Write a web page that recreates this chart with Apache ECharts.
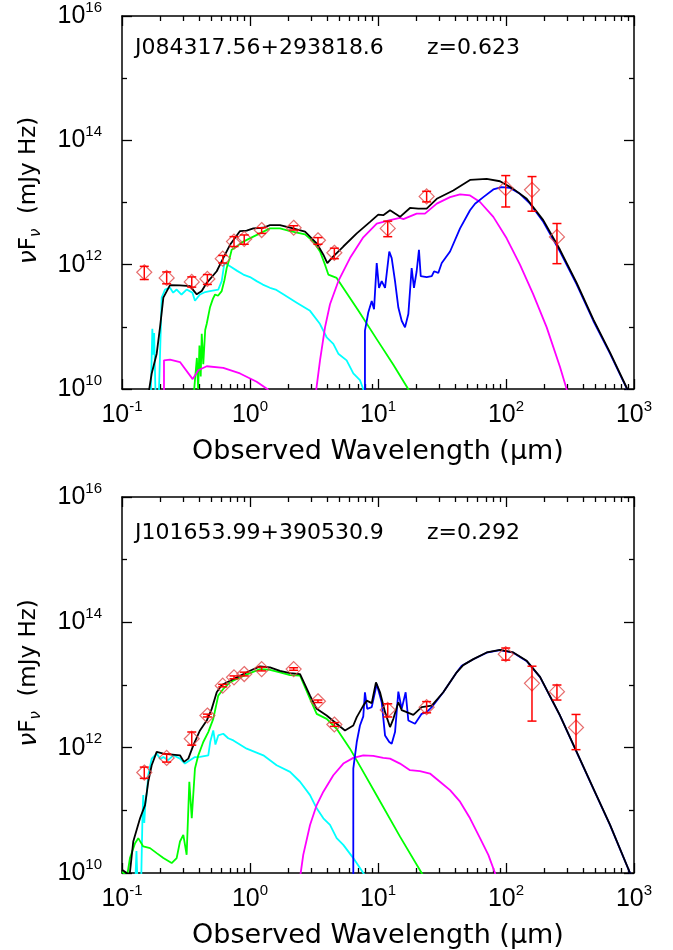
<!DOCTYPE html>
<html>
<head>
<meta charset="utf-8">
<script src="https://cdn.jsdelivr.net/npm/echarts@6/dist/echarts.min.js"></script>
<style>
  html, body { margin: 0; padding: 0; background: #fff; }
  #chart { width: 673px; height: 950px; }
</style>
</head>
<body>
<div id="chart"></div>
<script>
// all values are log10: wavelength in micron, nuFnu in mJy Hz
const sources = ['J084317.56+293818.6', 'J101653.99+390530.9'];
const redshifts = ['z=0.623', 'z=0.292'];

// photometry, panel 1
const bandsA = [-0.826, -0.651, -0.455, -0.333, -0.213, -0.125, -0.045, 0.091, 0.341, 0.531, 0.659, 1.076, 1.380, 1.998, 2.203, 2.398];
const fluxA  = [11.878, 11.787, 11.723, 11.771, 12.096, 12.371, 12.414, 12.557, 12.594, 12.392, 12.191, 12.583, 13.098, 13.231, 13.204, 12.446];
const errLoA = [11.761, 11.692, 11.639, 11.682, 12.026, 12.292, 12.328, 12.503, 12.557, 12.328, 12.096, 12.45, 13.01, 12.928, 12.86, 12.016];
const errHiA = [11.973, 11.883, 11.803, 11.841, 12.148, 12.451, 12.478, 12.594, 12.626, 12.435, 12.265, 12.70, 13.18, 13.433, 13.417, 12.662];

// photometry, panel 2
const bandsB = [-0.826, -0.651, -0.455, -0.333, -0.213, -0.125, -0.045, 0.091, 0.341, 0.531, 0.659, 1.076, 1.380, 1.998, 2.203, 2.398, 2.547];
const fluxB  = [11.603, 11.836, 12.143, 12.513, 12.989, 13.122, 13.175, 13.254, 13.254, 12.741, 12.37, 12.603, 12.646, 13.492, 13.027, 12.894, 12.322];
const errLoB = [11.51, 11.77, 12.04, 12.49, 12.97, 13.10, 13.145, 13.225, 13.235, 12.72, 12.34, 12.49, 12.556, 13.397, 12.424, 12.76, 11.968];
const errHiB = [11.69, 11.90, 12.25, 12.535, 13.01, 13.145, 13.205, 13.285, 13.275, 12.76, 12.40, 12.70, 12.735, 13.59, 13.30, 13.0, 12.53];

// model components, panel 1
const agnA = [[-0.775,9.9],[-0.763,10.97],[-0.756,10.55],[-0.749,10.9],[-0.738,9.9],[-0.712,9.9],[-0.69,11.47],[-0.664,11.6],[-0.625,11.63],[-0.6,11.55],[-0.573,11.6],[-0.535,11.52],[-0.495,11.6],[-0.45,11.55],[-0.43,11.42],[-0.391,11.52],[-0.35,11.56],[-0.313,11.575],[-0.248,11.6],[-0.221,11.735],[-0.2,12.03],[-0.156,11.973],[-0.1,11.9],[-0.052,11.841],[0,11.8],[0.052,11.735],[0.1,11.68],[0.156,11.628],[0.2,11.6],[0.26,11.523],[0.365,11.389],[0.469,11.257],[0.547,11.045],[0.599,10.832],[0.651,10.727],[0.69,10.568],[0.755,10.461],[0.807,10.25],[0.859,10.143],[0.885,9.995],[0.9,9.9]];
const starA = [[-0.44,9.9],[-0.415,10.5],[-0.405,10.0],[-0.395,10.7],[-0.385,10.2],[-0.377,10.89],[-0.365,10.4],[-0.35,10.95],[-0.338,11.05],[-0.313,11.31],[-0.29,11.45],[-0.273,11.52],[-0.25,11.5],[-0.221,11.575],[-0.2,11.75],[-0.182,11.946],[-0.16,12.1],[-0.143,12.239],[-0.104,12.292],[-0.08,12.33],[-0.052,12.371],[0.026,12.451],[0.078,12.503],[0.156,12.583],[0.234,12.583],[0.313,12.541],[0.43,12.487],[0.495,12.371],[0.547,12.212],[0.586,12.0],[0.612,11.841],[0.677,11.787],[0.85,11.25],[1.0,10.77],[1.12,10.39],[1.237,9.995],[1.25,9.95]];
const torusUvA = [[-0.672,9.9],[-0.672,10.461],[-0.625,10.472],[-0.547,10.434],[-0.448,10.159],[-0.404,10.302],[-0.338,10.366],[-0.209,10.339],[-0.078,10.25],[0.052,10.116],[0.138,9.995],[0.15,9.95]];
const torusA = [[0.512,9.9],[0.547,10.461],[0.586,10.991],[0.625,11.364],[0.69,11.734],[0.781,12.106],[0.885,12.44],[0.99,12.66],[1.094,12.717],[1.172,12.753],[1.198,12.732],[1.302,12.822],[1.367,12.822],[1.459,12.981],[1.563,13.087],[1.641,13.13],[1.719,13.114],[1.797,13.008],[1.901,12.769],[2.005,12.424],[2.109,12.0],[2.213,11.523],[2.318,10.991],[2.422,10.355],[2.474,9.995],[2.48,9.95]];
const coldA = [[0.898,9.9],[0.898,10.939],[0.924,11.23],[0.951,11.416],[0.969,11.284],[0.99,12.026],[1.008,11.628],[1.029,11.735],[1.055,11.628],[1.088,12.212],[1.107,12.105],[1.133,11.735],[1.159,11.31],[1.185,11.098],[1.211,10.991],[1.237,11.205],[1.25,11.575],[1.263,11.946],[1.281,11.628],[1.302,11.894],[1.32,12.239],[1.334,11.814],[1.38,11.798],[1.42,11.814],[1.438,11.894],[1.471,11.867],[1.498,12.026],[1.563,12.212],[1.641,12.583],[1.719,12.876],[1.758,12.981],[1.823,13.087],[1.901,13.21],[1.966,13.247],[2.031,13.235],[2.109,13.14],[2.188,12.981],[2.291,12.689],[2.422,12.212],[2.552,11.682],[2.682,11.098],[2.813,10.568],[2.943,10.011],[2.96,9.95]];
const totalA = [[-0.79,9.9],[-0.787,10.0],[-0.768,10.25],[-0.729,10.568],[-0.703,10.991],[-0.677,11.469],[-0.625,11.671],[-0.547,11.666],[-0.469,11.655],[-0.416,11.523],[-0.377,11.575],[-0.338,11.708],[-0.26,11.894],[-0.209,12.105],[-0.156,12.319],[-0.078,12.541],[-0.026,12.546],[0.026,12.583],[0.104,12.594],[0.156,12.637],[0.234,12.637],[0.313,12.594],[0.43,12.53],[0.521,12.344],[0.573,12.16],[0.604,12.026],[0.651,12.132],[0.729,12.292],[0.834,12.503],[0.938,12.689],[1.002,12.806],[1.041,12.796],[1.094,12.876],[1.172,12.769],[1.25,12.912],[1.315,12.901],[1.38,12.901],[1.459,13.06],[1.588,13.194],[1.719,13.363],[1.849,13.379],[1.953,13.342],[2.057,13.219],[2.162,13.06],[2.291,12.717],[2.422,12.239],[2.552,11.708],[2.682,11.12],[2.813,10.585],[2.943,10.02],[2.96,9.95]];

// model components, panel 2
const agnB = [[-0.895,9.9],[-0.887,10.35],[-0.88,9.9],[-0.85,9.9],[-0.84,10.9],[-0.834,11.243],[-0.826,10.8],[-0.818,11.1],[-0.805,11.3],[-0.795,11.56],[-0.768,11.825],[-0.729,11.905],[-0.7,11.82],[-0.677,11.852],[-0.64,11.8],[-0.599,11.878],[-0.547,11.825],[-0.508,11.746],[-0.469,11.798],[-0.43,11.85],[-0.391,11.852],[-0.326,11.878],[-0.31,12.1],[-0.287,12.275],[-0.27,12.05],[-0.248,12.195],[-0.209,12.222],[-0.17,12.15],[-0.13,12.116],[-0.026,11.984],[0.104,11.878],[0.208,11.719],[0.313,11.614],[0.391,11.456],[0.469,11.243],[0.521,11.032],[0.573,10.873],[0.625,10.767],[0.677,10.556],[0.729,10.449],[0.807,10.238],[0.885,10.0],[0.9,9.95]];
const starB = [[-1.0,10.02],[-0.96,9.95],[-0.938,10.238],[-0.898,10.476],[-0.873,10.556],[-0.834,10.424],[-0.781,10.397],[-0.729,10.317],[-0.677,10.238],[-0.612,10.159],[-0.573,10.238],[-0.547,10.503],[-0.521,10.608],[-0.495,10.29],[-0.474,11.456],[-0.455,10.873],[-0.43,11.667],[-0.404,11.878],[-0.365,12.09],[-0.326,12.249],[-0.287,12.46],[-0.248,12.83],[-0.209,12.937],[-0.156,13.043],[-0.078,13.122],[0,13.19],[0.078,13.254],[0.156,13.243],[0.234,13.202],[0.313,13.159],[0.391,13.148],[0.469,12.778],[0.521,12.54],[0.599,12.46],[0.677,12.302],[0.781,11.984],[0.885,11.614],[1.0,11.2],[1.172,10.58],[1.341,10.0],[1.36,9.93]];
const torusB = [[0.39,9.9],[0.396,10.0],[0.416,10.29],[0.469,10.767],[0.521,11.084],[0.573,11.297],[0.651,11.56],[0.729,11.746],[0.807,11.837],[0.885,11.878],[0.963,11.868],[1.041,11.837],[1.094,11.825],[1.172,11.746],[1.25,11.64],[1.328,11.624],[1.406,11.587],[1.484,11.456],[1.563,11.322],[1.641,11.138],[1.719,10.873],[1.797,10.556],[1.862,10.29],[1.914,10.0],[1.92,9.95]];
const coldB = [[0.807,9.9],[0.807,11.667],[0.834,12.09],[0.859,12.354],[0.885,12.5],[0.898,12.884],[0.916,12.619],[0.951,12.646],[0.99,13.016],[1.029,12.725],[1.055,12.195],[1.088,12.09],[1.107,12.063],[1.133,12.249],[1.159,12.894],[1.185,12.619],[1.216,12.884],[1.237,12.433],[1.289,12.381],[1.341,12.54],[1.38,12.567],[1.42,12.646],[1.51,12.884],[1.615,13.202],[1.654,13.306],[1.666,13.32],[1.745,13.41],[1.849,13.515],[1.953,13.555],[2.057,13.515],[2.162,13.38],[2.266,13.125],[2.422,12.51],[2.552,11.93],[2.682,11.345],[2.813,10.765],[2.969,9.998],[2.98,9.95]];
const totalB = [[-1.0,10.05],[-0.94,9.97],[-0.912,10.503],[-0.859,10.873],[-0.82,11.084],[-0.795,11.456],[-0.768,11.719],[-0.729,11.932],[-0.677,11.905],[-0.625,11.894],[-0.547,11.878],[-0.516,11.773],[-0.482,11.825],[-0.443,12.037],[-0.391,12.275],[-0.338,12.433],[-0.299,12.619],[-0.26,12.884],[-0.221,13.0],[-0.156,13.068],[-0.078,13.148],[0,13.227],[0.078,13.297],[0.156,13.281],[0.234,13.227],[0.313,13.19],[0.391,13.175],[0.469,12.83],[0.521,12.62],[0.599,12.513],[0.677,12.381],[0.742,12.275],[0.807,12.354],[0.834,12.487],[0.885,12.671],[0.912,12.75],[0.951,12.71],[0.984,13.043],[1.016,12.884],[1.055,12.567],[1.094,12.329],[1.12,12.46],[1.159,12.725],[1.185,12.6],[1.224,12.567],[1.276,12.524],[1.341,12.646],[1.42,12.671],[1.51,12.884],[1.615,13.202],[1.666,13.317],[1.745,13.413],[1.849,13.519],[1.953,13.56],[2.057,13.519],[2.162,13.386],[2.266,13.13],[2.422,12.513],[2.552,11.932],[2.682,11.349],[2.813,10.767],[2.969,10.0],[2.98,9.95]];

const FONT = "'DejaVu Sans', sans-serif";
const NUM_FONT = "'Liberation Sans', Arial, sans-serif";

const xMinor = [];
for (let d = -1; d < 3; d++) {
  for (let k = 2; k < 10; k++) xMinor.push(d + Math.log10(k));
}
const yMinor = [11, 13, 15];

const tickRich = {
  b: { fontSize: 25, fontFamily: NUM_FONT, color: '#000', lineHeight: 32 },
  s: { fontSize: 15, fontFamily: NUM_FONT, color: '#000', lineHeight: 16, verticalAlign: 'top' }
};
const powLabel = v => '{b|10}{s|' + v + '}';
const blackLine = () => ({ show: true, onZero: false, lineStyle: { color: '#000', width: 1.5 } });
const noLine = () => ({ show: false, onZero: false });
const majorTick = () => ({ show: true, inside: true, length: 10, lineStyle: { color: '#000', width: 1.3 } });
const minorTick = vals => ({ show: true, inside: true, length: 5, customValues: vals, lineStyle: { color: '#000', width: 1.3 } });

function xAxes(g) {
  const c = () => ({ type: 'value', gridIndex: g, min: -1, max: 3, splitLine: { show: false } });
  return [
    { ...c(), position: 'bottom', interval: 1, axisLine: blackLine(), axisTick: majorTick(),
      axisLabel: { show: true, margin: 10, formatter: powLabel, rich: tickRich, showMinLabel: true, showMaxLabel: true },
      name: 'Observed Wavelength (μm)', nameLocation: 'middle', nameGap: 49,
      nameTextStyle: { fontFamily: FONT, fontSize: 27, color: '#000' } },
    { ...c(), position: 'bottom', axisLine: noLine(), axisTick: minorTick(xMinor), axisLabel: { show: false } },
    { ...c(), position: 'top', interval: 1, axisLine: blackLine(), axisTick: majorTick(), axisLabel: { show: false } },
    { ...c(), position: 'top', axisLine: noLine(), axisTick: minorTick(xMinor), axisLabel: { show: false } }
  ];
}

function yAxes(g) {
  const c = () => ({ type: 'value', gridIndex: g, min: 10, max: 16, splitLine: { show: false } });
  return [
    { ...c(), position: 'left', interval: 2, axisLine: blackLine(), axisTick: majorTick(),
      axisLabel: { show: true, margin: 20, formatter: powLabel, rich: tickRich, showMinLabel: true, showMaxLabel: true },
      name: '{g|ν}{f|F}{u|ν}{t|  (mJy Hz)}', nameLocation: 'middle', nameGap: 78,
      nameTextStyle: { color: '#000', padding: [0, 0, 0, 24], rich: {
        g: { fontFamily: FONT, fontSize: 25, fontStyle: 'italic', color: '#000' },
        f: { fontFamily: FONT, fontSize: 23, color: '#000' },
        u: { fontFamily: FONT, fontSize: 15, fontStyle: 'italic', color: '#000', verticalAlign: 'bottom', lineHeight: 14 },
        t: { fontFamily: FONT, fontSize: 23, color: '#000', lineHeight: 30 }
      } } },
    { ...c(), position: 'left', axisLine: noLine(), axisTick: minorTick(yMinor), axisLabel: { show: false } },
    { ...c(), position: 'right', interval: 2, axisLine: blackLine(), axisTick: majorTick(), axisLabel: { show: false } },
    { ...c(), position: 'right', axisLine: noLine(), axisTick: minorTick(yMinor), axisLabel: { show: false } }
  ];
}

function curve(data, color, g) {
  return {
    type: 'line', xAxisIndex: g * 4, yAxisIndex: g * 4, data: data,
    symbol: 'none', clip: true, silent: true, z: 2,
    lineStyle: { color: color, width: 1.8 }, itemStyle: { color: color }
  };
}

function photometry(bands, flux, lo, hi, g) {
  return [
    {
      type: 'scatter', xAxisIndex: g * 4, yAxisIndex: g * 4, z: 3, silent: true,
      data: bands.map((x, i) => [x, flux[i]]),
      symbol: 'diamond', symbolSize: [15, 15],
      itemStyle: { color: 'rgba(0,0,0,0)', borderColor: '#e04848', borderWidth: 1.2 }
    },
    {
      type: 'custom', xAxisIndex: g * 4, yAxisIndex: g * 4, z: 4, silent: true,
      data: bands.map((x, i) => [x, lo[i], hi[i]]),
      encode: { x: 0, y: [1, 2] },
      renderItem: (params, api) => {
        const x = api.value(0);
        const top = api.coord([x, api.value(2)]);
        const bot = api.coord([x, api.value(1)]);
        const w = 4.5;
        const style = { stroke: '#ff0000', lineWidth: 1.5 };
        return {
          type: 'group',
          children: [
            { type: 'line', shape: { x1: top[0], y1: top[1], x2: bot[0], y2: bot[1] }, style: style },
            { type: 'line', shape: { x1: top[0] - w, y1: top[1], x2: top[0] + w, y2: top[1] }, style: style },
            { type: 'line', shape: { x1: bot[0] - w, y1: bot[1], x2: bot[0] + w, y2: bot[1] }, style: style }
          ]
        };
      }
    }
  ];
}

const labelStyle = { fontFamily: FONT, fontSize: 22, fontWeight: 'normal', color: '#000' };

const chart = echarts.init(document.getElementById('chart'));
chart.setOption({
  animation: false,
  backgroundColor: '#fff',
  title: [
    { text: sources[0], left: 135, top: 37, padding: 0, textStyle: labelStyle },
    { text: redshifts[0], left: 427, top: 37, padding: 0, textStyle: labelStyle },
    { text: sources[1], left: 135, top: 522, padding: 0, textStyle: labelStyle },
    { text: redshifts[1], left: 427, top: 522, padding: 0, textStyle: labelStyle }
  ],
  grid: [
    { left: 122, top: 12, width: 512, height: 377 },
    { left: 122, top: 497, width: 512, height: 378 }
  ],
  xAxis: [...xAxes(0), ...xAxes(1)],
  yAxis: [...yAxes(0), ...yAxes(1)],
  series: [
    curve(agnA, '#00ffff', 0),
    curve(starA, '#00ff00', 0),
    curve(torusUvA, '#ff00ff', 0),
    curve(torusA, '#ff00ff', 0),
    curve(coldA, '#0000ff', 0),
    curve(totalA, '#000000', 0),
    ...photometry(bandsA, fluxA, errLoA, errHiA, 0),
    curve(agnB, '#00ffff', 1),
    curve(starB, '#00ff00', 1),
    curve(torusB, '#ff00ff', 1),
    curve(coldB, '#0000ff', 1),
    curve(totalB, '#000000', 1),
    ...photometry(bandsB, fluxB, errLoB, errHiB, 1)
  ]
});
</script>
</body>
</html>
